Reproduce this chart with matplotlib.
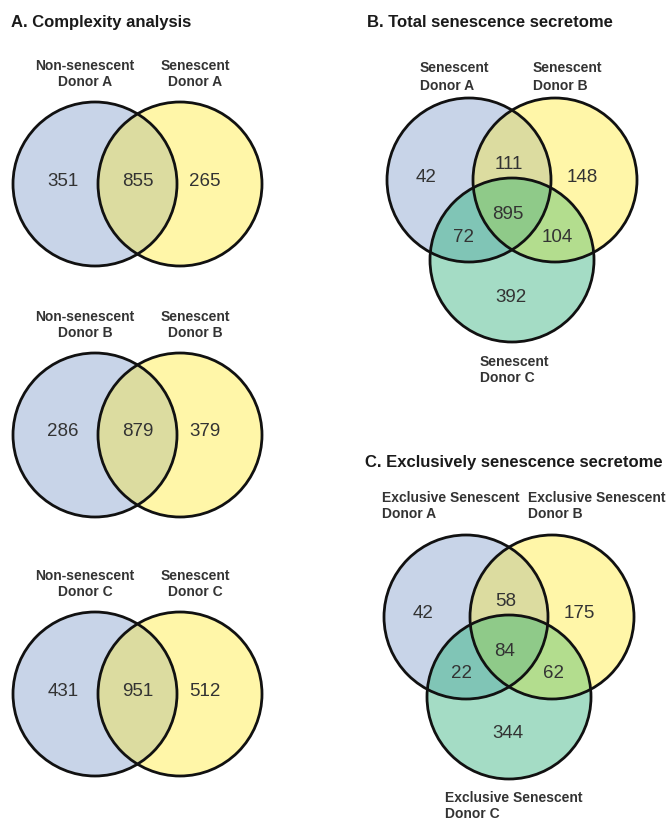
import numpy as np
import matplotlib.pyplot as plt
from matplotlib.patches import Circle
from matplotlib.colors import to_rgba

plt.rcParams['font.family'] = ['Liberation Sans', 'DejaVu Sans']

# ---- data ----
panel_a_titles = ['A. Complexity analysis']
panel_a_left = ['Non-senescent\nDonor A', 'Non-senescent\nDonor B', 'Non-senescent\nDonor C']
panel_a_right = ['Senescent\nDonor A', 'Senescent\nDonor B', 'Senescent\nDonor C']
# left only, shared, right only
panel_a_counts = [[351, 855, 265],
                  [286, 879, 379],
                  [431, 951, 512]]

panel_b_title = 'B. Total senescence secretome'
panel_b_sets = ['Senescent\nDonor A', 'Senescent\nDonor B', 'Senescent\nDonor C']
# order: A, AB, B, ABC, AC, BC, C
panel_b_counts = [42, 111, 148, 895, 72, 104, 392]

panel_c_title = 'C. Exclusively senescence secretome'
panel_c_sets = ['Exclusive Senescent\nDonor A', 'Exclusive Senescent\nDonor B',
                'Exclusive Senescent\nDonor C']
panel_c_counts = [42, 58, 175, 84, 22, 62, 344]

# ---- style ----
R = 82
col = {'A': '#c9d5e9', 'B': '#fff6a8', 'C': '#a5dcc5',
       'AB': '#dcdca0', 'AC': '#80c5b6', 'BC': '#b4dd8e', 'ABC': '#8fca8a'}
edge = '#111111'
num_kw = dict(fontsize=13.5, color='#333333', ha='center', va='center')
lab_kw = dict(fontsize=10, fontweight='bold', color='#333333')
title_kw = dict(fontsize=12, fontweight='bold', color='#1a1a1a', ha='left', va='center')

fig = plt.figure(figsize=(6.71, 8.21), dpi=100)
ax = fig.add_axes([0, 0, 1, 1])
ax.set_xlim(0, 671)
ax.set_ylim(821, 0)
ax.axis('off')


def fill_regions(centers):
    xs = [c[0] for c in centers]
    ys = [c[1] for c in centers]
    x0, x1 = min(xs) - R - 2, max(xs) + R + 2
    y0, y1 = min(ys) - R - 2, max(ys) + R + 2
    gx, gy = np.meshgrid(np.arange(x0, x1, 0.5), np.arange(y0, y1, 0.5))
    names = 'ABC'[:len(centers)]
    inside = {n: (gx - c[0]) ** 2 + (gy - c[1]) ** 2 <= R ** 2 for n, c in zip(names, centers)}
    img = np.zeros(gx.shape + (4,))
    key = np.full(gx.shape, '', dtype=object)
    for n in names:
        key = np.where(inside[n], key + n, key)
    for k, c in col.items():
        img[key == k] = to_rgba(c)
    ax.imshow(img, extent=(x0, x1, y1, y0), interpolation='antialiased', zorder=1)
    for c in centers:
        ax.add_patch(Circle(c, R, fill=False, ec=edge, lw=2, zorder=3))


# ---- panel A: three two-set diagrams ----
ax.text(11, 22, panel_a_titles[0], **title_kw)
a_cy = [184, 435, 694]
for i, cy in enumerate(a_cy):
    cl, cr = (95, cy), (180, cy)
    fill_regions([cl, cr])
    left_only, shared, right_only = panel_a_counts[i]
    ax.text(cl[0] - 32, cy - 3, str(left_only), zorder=4, **num_kw)
    ax.text((cl[0] + cr[0]) / 2, cy - 3, str(shared), zorder=4, **num_kw)
    ax.text(cr[0] + 25, cy - 3, str(right_only), zorder=4, **num_kw)
    ax.text(85, cy - 110, panel_a_left[i], ha='center', va='center',
            multialignment='center', linespacing=1.15, **lab_kw)
    ax.text(195, cy - 110, panel_a_right[i], ha='center', va='center',
            multialignment='center', linespacing=1.15, **lab_kw)

# offsets of region numbers from circle A centre (A, AB, B, ABC, AC, BC, C)
offs = [(-43, -3), (40, -16), (113, -3), (39, 34), (-5, 57), (88, 57), (42, 117)]


def three_set(ca, counts):
    cb = (ca[0] + 86, ca[1])
    cc = (ca[0] + 43, ca[1] + 80)
    fill_regions([ca, cb, cc])
    for v, (dx, dy) in zip(counts, offs):
        ax.text(ca[0] + dx, ca[1] + dy, str(v), zorder=4, **num_kw)
    return cb, cc


# ---- panel B ----
ax.text(367, 22, panel_b_title, **title_kw)
three_set((469, 180), panel_b_counts)
ax.text(420, 77, panel_b_sets[0], ha='left', va='center', linespacing=1.35, **lab_kw)
ax.text(533, 77, panel_b_sets[1], ha='left', va='center', linespacing=1.35, **lab_kw)
ax.text(480, 370, panel_b_sets[2], ha='left', va='center', linespacing=1.2, **lab_kw)

# ---- panel C ----
ax.text(365, 462, panel_c_title, **title_kw)
three_set((466, 617), panel_c_counts)
ax.text(382, 506, panel_c_sets[0], ha='left', va='center', linespacing=1.2, **lab_kw)
ax.text(528, 506, panel_c_sets[1], ha='left', va='center', linespacing=1.2, **lab_kw)
ax.text(445, 806, panel_c_sets[2], ha='left', va='center', linespacing=1.2, **lab_kw)

fig.savefig('out.png', dpi=100)
